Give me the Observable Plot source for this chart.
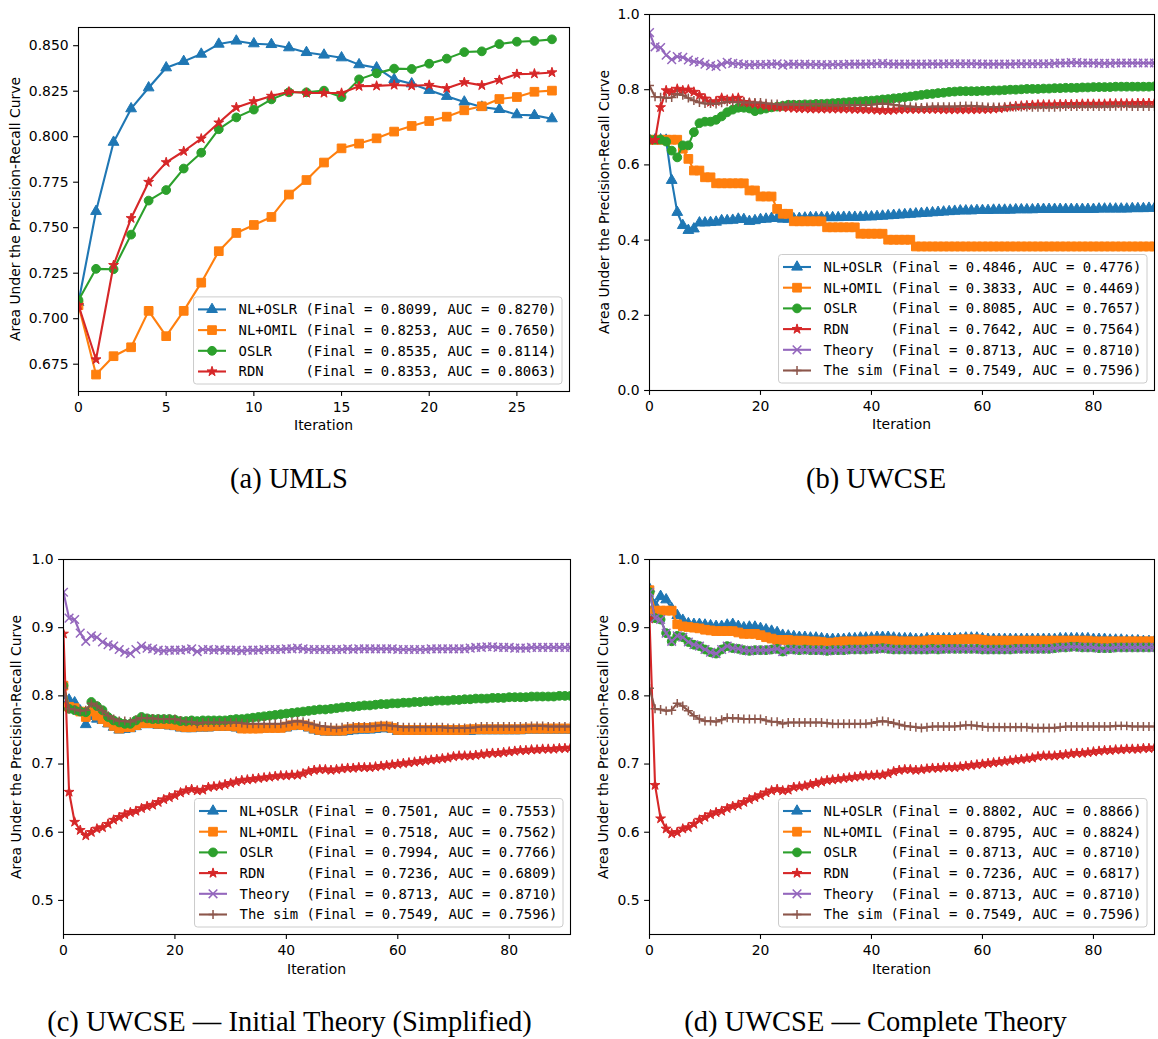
<!DOCTYPE html>
<html><head><meta charset="utf-8">
<script src="https://cdn.jsdelivr.net/npm/d3@7"></script>
<script src="https://cdn.jsdelivr.net/npm/@observablehq/plot@0.6"></script>
<style>
body{margin:0;background:#fff;}
#page{position:relative;width:1158px;height:1039px;overflow:hidden;background:#fff;}
.panel{position:absolute;}
.cap{position:absolute;font-family:"Liberation Serif",serif;font-size:28.5px;line-height:1;white-space:nowrap;transform:translate(-50%,-50%);color:#000;}
.xl{position:absolute;font-family:"DejaVu Sans",sans-serif;font-size:13.9px;line-height:1;transform:translate(-50%,-50%);white-space:nowrap;color:#000;}
.yl{position:absolute;font-family:"DejaVu Sans",sans-serif;font-size:13.9px;line-height:1;transform:translate(-50%,-50%) rotate(-90deg);white-space:nowrap;color:#000;}
</style></head><body><div id="page"></div><script>
// ---------- series names / legend values ----------
const NAMES = ["NL+OSLR","NL+OMIL","OSLR","RDN","Theory","The sim"];
const COLORS = ["#1f77b4","#ff7f0e","#2ca02c","#d62728","#9467bd","#8c564b"];
const SYMBOLS = ["triangle","square","circle","star","times","plus"];

const A_FINAL = [0.8099,0.8253,0.8535,0.8353];
const A_AUC   = [0.8270,0.7650,0.8114,0.8063];
const B_FINAL = [0.4846,0.3833,0.8085,0.7642,0.8713,0.7549];
const B_AUC   = [0.4776,0.4469,0.7657,0.7564,0.8710,0.7596];
const C_FINAL = [0.7501,0.7518,0.7994,0.7236,0.8713,0.7549];
const C_AUC   = [0.7553,0.7562,0.7766,0.6809,0.8710,0.7596];
const D_FINAL = [0.8802,0.8795,0.8713,0.7236,0.8713,0.7549];
const D_AUC   = [0.8866,0.8824,0.8710,0.6817,0.8710,0.7596];

// ---------- (a) UMLS : iterations 0..27 ----------
const A_NLOSLR = [0.709,0.759,0.797,0.8154,0.8269,0.8379,0.8414,0.8454,0.8509,0.8526,0.8511,0.8507,0.8489,0.8463,0.8449,0.8434,0.8396,0.8379,0.8315,0.8291,0.8255,0.8222,0.8191,0.8163,0.8150,0.8121,0.8117,0.8099];
const A_NLOMIL = [0.7074,0.6693,0.6794,0.6843,0.7043,0.6904,0.7043,0.7198,0.7371,0.7471,0.7515,0.7559,0.7682,0.7762,0.7858,0.7936,0.7962,0.7991,0.8028,0.8059,0.8086,0.8110,0.8145,0.8167,0.8207,0.8218,0.8247,0.8253];
const A_OSLR   = [0.7102,0.7274,0.7272,0.7462,0.7649,0.7707,0.7825,0.7912,0.8041,0.8106,0.8149,0.8205,0.8244,0.8244,0.8253,0.8218,0.8315,0.8348,0.8374,0.8372,0.8401,0.8429,0.8465,0.8469,0.8509,0.8522,0.8526,0.8535];
const A_RDN    = [0.7074,0.6776,0.7294,0.7552,0.7751,0.7859,0.7920,0.7989,0.8077,0.8161,0.8194,0.8224,0.8247,0.8240,0.8240,0.8240,0.8277,0.8279,0.8284,0.8280,0.8284,0.8266,0.8299,0.8282,0.8311,0.8344,0.8346,0.8353];

// ---------- shared UWCSE series : iterations 0..91 ----------
const THEORY = [0.952,0.914,0.912,0.892,0.880,0.888,0.886,0.879,0.875,0.873,0.868,0.864,0.862,0.868,0.873,
 0.870,0.869,0.867,0.866,0.867,0.867,0.867,0.868,0.869,0.865,0.868,0.868,0.867,0.868,0.867,
 0.867,0.867,0.866,0.867,0.867,0.867,0.868,0.868,0.868,0.868,0.869,0.869,0.870,0.869,0.868,
 0.868,0.868,0.868,0.868,0.868,0.868,0.869,0.868,0.869,0.869,0.869,0.869,0.869,0.869,0.869,
 0.868,0.868,0.868,0.868,0.868,0.868,0.869,0.869,0.869,0.869,0.869,0.869,0.869,0.870,0.871,
 0.871,0.872,0.872,0.871,0.871,0.871,0.870,0.870,0.870,0.871,0.871,0.871,0.871,0.871,0.871,0.871,0.871];
const THESIM = [0.811,0.781,0.780,0.778,0.779,0.789,0.785,0.778,0.771,0.766,0.763,0.763,0.762,0.765,0.768,
 0.767,0.767,0.766,0.766,0.766,0.766,0.764,0.762,0.762,0.759,0.761,0.761,0.761,0.761,0.761,
 0.761,0.761,0.760,0.759,0.759,0.759,0.759,0.759,0.759,0.759,0.760,0.762,0.763,0.762,0.760,
 0.758,0.756,0.755,0.754,0.753,0.754,0.755,0.755,0.755,0.755,0.755,0.756,0.757,0.757,0.756,
 0.755,0.754,0.754,0.754,0.754,0.754,0.754,0.754,0.754,0.753,0.753,0.753,0.753,0.753,0.754,
 0.755,0.755,0.755,0.755,0.755,0.755,0.755,0.755,0.755,0.756,0.756,0.756,0.755,0.755,0.755,0.755,0.755];

// ---------- (b) UWCSE ----------
const B_NLOSLR = [0.667,0.667,0.667,0.666,0.559,0.474,0.439,0.426,0.430,0.446,0.446,0.447,0.448,0.452,0.452,
 0.453,0.456,0.455,0.450,0.452,0.455,0.456,0.458,0.458,0.456,0.456,0.457,0.458,0.459,0.460,
 0.460,0.460,0.460,0.460,0.460,0.461,0.461,0.461,0.461,0.462,0.462,0.463,0.464,0.465,0.466,
 0.467,0.468,0.469,0.470,0.471,0.472,0.473,0.474,0.475,0.476,0.477,0.478,0.478,0.478,0.479,
 0.479,0.479,0.480,0.480,0.480,0.480,0.481,0.481,0.481,0.481,0.482,0.482,0.482,0.482,0.482,
 0.482,0.482,0.482,0.482,0.482,0.482,0.483,0.483,0.483,0.483,0.483,0.483,0.484,0.484,0.484,0.485,0.485];
const B_NLOMIL = [0.667,0.667,0.667,0.667,0.667,0.667,0.643,0.616,0.585,0.585,0.567,0.567,0.551,0.551,0.551,
 0.551,0.551,0.551,0.532,0.532,0.516,0.516,0.516,0.483,0.470,0.470,0.450,0.450,0.450,0.450,
 0.450,0.450,0.434,0.434,0.434,0.434,0.434,0.434,0.417,0.417,0.417,0.417,0.417,0.401,0.401,
 0.401,0.401,0.401,0.383,0.383,0.383,0.383,0.383,0.383,0.383,0.383,0.383,0.383,0.383,0.383,
 0.383,0.383,0.383,0.383,0.383,0.383,0.383,0.383,0.383,0.383,0.383,0.383,0.383,0.383,0.383,
 0.383,0.383,0.383,0.383,0.383,0.383,0.383,0.383,0.383,0.383,0.383,0.383,0.383,0.383,0.383,0.383,0.383];
const B_OSLR = [0.667,0.667,0.667,0.662,0.638,0.620,0.652,0.652,0.687,0.711,0.715,0.715,0.720,0.729,0.740,
 0.747,0.752,0.752,0.750,0.743,0.747,0.750,0.753,0.755,0.757,0.760,0.760,0.760,0.761,0.761,
 0.762,0.762,0.763,0.764,0.765,0.766,0.767,0.768,0.769,0.770,0.771,0.772,0.774,0.775,0.777,
 0.778,0.780,0.782,0.784,0.786,0.788,0.789,0.791,0.792,0.794,0.795,0.796,0.796,0.796,0.796,
 0.797,0.797,0.798,0.798,0.799,0.800,0.800,0.801,0.802,0.802,0.802,0.803,0.803,0.804,0.804,
 0.805,0.805,0.805,0.806,0.806,0.807,0.807,0.807,0.807,0.808,0.808,0.808,0.808,0.808,0.808,0.808,0.809];
const B_RDN = [0.666,0.666,0.753,0.798,0.794,0.802,0.798,0.800,0.794,0.785,0.776,0.767,0.769,0.778,0.773,
 0.776,0.778,0.767,0.765,0.762,0.760,0.757,0.755,0.754,0.753,0.752,0.751,0.750,0.750,0.749,
 0.749,0.749,0.749,0.749,0.749,0.749,0.749,0.748,0.748,0.747,0.747,0.746,0.745,0.745,0.746,
 0.747,0.748,0.748,0.748,0.748,0.748,0.748,0.748,0.747,0.747,0.747,0.747,0.747,0.747,0.747,
 0.748,0.748,0.749,0.750,0.752,0.754,0.756,0.757,0.758,0.759,0.760,0.760,0.760,0.760,0.761,
 0.761,0.761,0.761,0.762,0.762,0.762,0.762,0.762,0.763,0.763,0.763,0.763,0.763,0.764,0.764,0.764,0.764];

// ---------- (c) UWCSE - Initial Theory (Simplified) ----------
const C_NLOSLR = [0.800,0.794,0.790,0.778,0.758,0.770,0.766,0.764,0.759,0.754,0.750,0.751,0.752,0.755,0.758,
 0.758,0.758,0.757,0.757,0.756,0.755,0.753,0.752,0.752,0.753,0.753,0.753,0.754,0.754,0.754,
 0.754,0.753,0.751,0.751,0.751,0.751,0.752,0.752,0.752,0.752,0.753,0.755,0.756,0.756,0.753,
 0.750,0.748,0.747,0.747,0.747,0.747,0.748,0.749,0.750,0.750,0.750,0.751,0.752,0.752,0.751,
 0.748,0.748,0.748,0.748,0.748,0.748,0.748,0.748,0.748,0.748,0.748,0.748,0.748,0.748,0.749,
 0.749,0.749,0.749,0.749,0.749,0.749,0.749,0.749,0.750,0.750,0.750,0.750,0.750,0.750,0.750,0.750,0.750];
const C_NLOMIL = [0.815,0.784,0.782,0.777,0.769,0.777,0.771,0.766,0.761,0.756,0.752,0.754,0.754,0.757,0.760,
 0.760,0.760,0.759,0.759,0.758,0.757,0.755,0.754,0.754,0.755,0.755,0.755,0.756,0.756,0.756,
 0.756,0.755,0.752,0.752,0.752,0.752,0.753,0.753,0.753,0.753,0.755,0.757,0.758,0.757,0.755,
 0.752,0.750,0.749,0.749,0.749,0.749,0.751,0.752,0.753,0.753,0.753,0.754,0.755,0.755,0.753,
 0.750,0.750,0.750,0.750,0.750,0.750,0.750,0.750,0.750,0.750,0.750,0.750,0.750,0.751,0.751,
 0.751,0.751,0.751,0.751,0.751,0.751,0.751,0.751,0.752,0.752,0.752,0.752,0.752,0.752,0.752,0.752,0.752];
const C_OSLR = [0.815,0.781,0.779,0.777,0.776,0.791,0.785,0.779,0.769,0.764,0.761,0.759,0.759,0.764,0.769,
 0.767,0.766,0.766,0.766,0.766,0.765,0.763,0.763,0.764,0.763,0.764,0.764,0.764,0.764,0.764,
 0.765,0.766,0.766,0.767,0.768,0.769,0.770,0.771,0.772,0.773,0.774,0.775,0.776,0.777,0.778,
 0.779,0.780,0.780,0.781,0.782,0.783,0.784,0.784,0.785,0.786,0.786,0.787,0.788,0.788,0.789,
 0.789,0.790,0.790,0.791,0.791,0.792,0.792,0.793,0.793,0.793,0.794,0.794,0.795,0.795,0.796,
 0.796,0.796,0.797,0.797,0.797,0.798,0.798,0.798,0.798,0.799,0.799,0.799,0.799,0.799,0.800,0.800,0.800];
const C_RDN = [0.891,0.659,0.615,0.603,0.595,0.600,0.605,0.607,0.612,0.618,0.622,0.626,0.629,0.631,0.635,
 0.638,0.640,0.644,0.648,0.651,0.654,0.658,0.661,0.663,0.661,0.662,0.666,0.667,0.668,0.670,
 0.672,0.674,0.676,0.677,0.678,0.679,0.680,0.681,0.682,0.683,0.683,0.684,0.684,0.686,0.689,
 0.691,0.692,0.692,0.691,0.692,0.693,0.694,0.694,0.695,0.695,0.695,0.696,0.697,0.698,0.699,
 0.700,0.701,0.702,0.703,0.704,0.705,0.706,0.707,0.708,0.709,0.711,0.712,0.712,0.712,0.713,
 0.714,0.715,0.716,0.716,0.717,0.718,0.719,0.720,0.720,0.721,0.721,0.722,0.722,0.722,0.723,0.723,0.724];

// ---------- (d) UWCSE - Complete Theory ----------
const D_NLOSLR = [0.957,0.933,0.946,0.941,0.928,0.918,0.911,0.906,0.905,0.905,0.904,0.903,0.902,0.902,0.904,
 0.905,0.902,0.900,0.901,0.901,0.899,0.897,0.895,0.893,0.889,0.888,0.887,0.886,0.886,0.885,
 0.885,0.884,0.883,0.883,0.883,0.883,0.884,0.884,0.885,0.885,0.885,0.886,0.886,0.886,0.885,
 0.884,0.884,0.884,0.883,0.883,0.884,0.884,0.884,0.884,0.884,0.884,0.884,0.885,0.885,0.885,
 0.884,0.883,0.883,0.883,0.883,0.883,0.883,0.883,0.883,0.883,0.883,0.883,0.883,0.883,0.884,
 0.884,0.884,0.884,0.884,0.884,0.883,0.883,0.883,0.882,0.882,0.882,0.881,0.881,0.881,0.880,0.880,0.880];
const D_NLOMIL = [0.955,0.925,0.925,0.925,0.925,0.905,0.902,0.901,0.900,0.899,0.897,0.896,0.895,0.895,0.895,
 0.895,0.893,0.891,0.891,0.891,0.889,0.886,0.884,0.882,0.882,0.882,0.881,0.881,0.881,0.880,
 0.880,0.879,0.878,0.878,0.879,0.880,0.880,0.880,0.880,0.880,0.881,0.881,0.881,0.881,0.881,
 0.880,0.880,0.880,0.880,0.880,0.881,0.882,0.882,0.882,0.882,0.882,0.883,0.883,0.883,0.883,
 0.882,0.881,0.881,0.881,0.881,0.881,0.881,0.881,0.881,0.881,0.881,0.881,0.881,0.881,0.881,
 0.881,0.881,0.881,0.881,0.881,0.880,0.880,0.880,0.880,0.880,0.880,0.880,0.880,0.880,0.880,0.880,0.880];
const D_OSLR = THEORY;
const D_RDN = [0.913,0.669,0.620,0.605,0.598].concat(C_RDN.slice(5));

// ---------- layout ----------
const FS = 13.9;
const PANELS = [
 {left:0,top:0,w:575,h:440,ml:78,mr:6,mt:27,mb:49,xDomain:[0,28],yDomain:[0.660,0.860],
  xTicks:[0,5,10,15,20,25],yTicks:[0.675,0.700,0.725,0.750,0.775,0.800,0.825,0.850],yFmt:".3f",
  series:[A_NLOSLR,A_NLOMIL,A_OSLR,A_RDN],finals:A_FINAL,aucs:A_AUC,
  caption:"(a) UMLS",capX:289,capY:479,ylX:15.5,xlY:425.5},
 {left:580,top:0,w:578,h:440,ml:69,mr:4,mt:14,mb:50,xDomain:[0,91],yDomain:[0,1],
  xTicks:[0,20,40,60,80],yTicks:[0,0.2,0.4,0.6,0.8,1.0],yFmt:".1f",
  series:[B_NLOSLR,B_NLOMIL,B_OSLR,B_RDN,THEORY,THESIM],finals:B_FINAL,aucs:B_AUC,
  caption:"(b) UWCSE",capX:876,capY:479,ylX:604.5,xlY:425},
 {left:0,top:540,w:575,h:440,ml:63,mr:5,mt:19,mb:46,xDomain:[0,91],yDomain:[0.45,1],
  xTicks:[0,20,40,60,80],yTicks:[0.5,0.6,0.7,0.8,0.9,1.0],yFmt:".1f",
  series:[C_NLOSLR,C_NLOMIL,C_OSLR,C_RDN,THEORY,THESIM],finals:C_FINAL,aucs:C_AUC,
  caption:"(c) UWCSE \u2014 Initial Theory (Simplified)",capX:289.5,capY:1022,ylX:17.3,xlY:970},
 {left:580,top:540,w:578,h:440,ml:69,mr:4,mt:19,mb:46,xDomain:[0,91],yDomain:[0.45,1],
  xTicks:[0,20,40,60,80],yTicks:[0.5,0.6,0.7,0.8,0.9,1.0],yFmt:".1f",
  series:[D_NLOSLR,D_NLOMIL,D_OSLR,D_RDN,THEORY,THESIM],finals:D_FINAL,aucs:D_AUC,
  caption:"(d) UWCSE \u2014 Complete Theory",capX:875.5,capY:1022,ylX:603.7,xlY:970}
];
const RADII = {triangle:4.0,square:4.9,circle:4.4,star:3.1,times:4.0,plus:3.0};
const STROKED = {times:true,plus:true};
const D3SYM = {triangle:d3.symbolTriangle,square:d3.symbolSquare,circle:d3.symbolCircle,star:d3.symbolStar,times:d3.symbolTimes,plus:d3.symbolPlus};

const page = document.getElementById("page");

PANELS.forEach(p => {
  const marks = [];
  p.series.forEach((vals, k) => {
    const rows = vals.map((v, i) => ({i, v}));
    const sym = SYMBOLS[k], col = COLORS[k];
    marks.push(Plot.line(rows, {x:"i", y:"v", stroke:col, strokeWidth:2.1, clip:true}));
    marks.push(Plot.dot(rows, {x:"i", y:"v", symbol:sym, r:RADII[sym],
      fill: STROKED[sym] ? "none" : col, stroke: col, strokeWidth: STROKED[sym] ? 1.5 : 1, clip:true}));
  });
  marks.push(Plot.frame({stroke:"black", strokeWidth:1.1}));
  marks.push(Plot.axisX({ticks:p.xTicks, tickSize:4.9, tickPadding:6, strokeWidth:1.1, label:null}));
  marks.push(Plot.axisY({ticks:p.yTicks, tickFormat:d3.format(p.yFmt), tickSize:4.9, tickPadding:5, strokeWidth:1.1, label:null}));
  const svg = Plot.plot({
    width:p.w, height:p.h, marginLeft:p.ml, marginRight:p.mr, marginTop:p.mt, marginBottom:p.mb,
    x:{domain:p.xDomain}, y:{domain:p.yDomain},
    style:{fontFamily:"DejaVu Sans", fontSize:FS+"px", color:"black", background:"transparent", overflow:"visible"},
    marks
  });
  const wrap = document.createElement("div");
  wrap.className = "panel";
  wrap.style.left = p.left + "px"; wrap.style.top = p.top + "px";
  wrap.appendChild(svg);
  page.appendChild(wrap);

  const fl = p.left + p.ml, fr = p.left + p.w - p.mr, ft = p.top + p.mt, fb = p.top + p.h - p.mb;
  const xl = document.createElement("div"); xl.className = "xl"; xl.textContent = "Iteration";
  xl.style.left = ((fl + fr) / 2) + "px"; xl.style.top = p.xlY + "px"; page.appendChild(xl);
  const yl = document.createElement("div"); yl.className = "yl"; yl.textContent = "Area Under the Precision-Recall Curve";
  yl.style.left = p.ylX + "px"; yl.style.top = ((ft + fb) / 2) + "px"; page.appendChild(yl);
  const cap = document.createElement("div"); cap.className = "cap"; cap.textContent = p.caption;
  cap.style.left = p.capX + "px"; cap.style.top = p.capY + "px"; page.appendChild(cap);
  p.frame = {fl, fr, ft, fb};
});

// ---------- legends ----------
const ov = d3.select(page).append("svg").attr("width",1158).attr("height",1039)
  .style("position","absolute").style("left","0px").style("top","0px");
PANELS.forEach(p => {
  const n = p.series.length, rowH = 20.7;
  const boxR = p.frame.fr - 7, boxB = p.frame.fb - 7;
  const textW = 38 * 0.602 * FS;
  const textL = boxR - 5.5 - textW;
  const boxL = textL - 45;
  const boxH = (n - 1) * rowH + 25, boxT = boxB - boxH;
  const g = ov.append("g");
  g.append("rect").attr("x",boxL).attr("y",boxT).attr("width",boxR-boxL).attr("height",boxH)
    .attr("rx",3).attr("fill","white").attr("fill-opacity",0.8).attr("stroke","#cccccc").attr("stroke-width",1);
  for (let k = 0; k < n; k++) {
    const cy = boxT + 12.5 + k * rowH, col = COLORS[k], sym = SYMBOLS[k];
    g.append("line").attr("x1",boxL+4.5).attr("x2",boxL+32.5).attr("y1",cy).attr("y2",cy)
      .attr("stroke",col).attr("stroke-width",2.1);
    const r = RADII[sym];
    g.append("path").attr("d", d3.symbol(D3SYM[sym], Math.PI*r*r)())
      .attr("transform",`translate(${boxL+18.5},${cy})`)
      .attr("fill", STROKED[sym] ? "none" : col).attr("stroke",col).attr("stroke-width", STROKED[sym] ? 1.5 : 1);
    const label = NAMES[k].padEnd(7) + " (Final = " + p.finals[k].toFixed(4) + ", AUC = " + p.aucs[k].toFixed(4) + ")";
    g.append("text").attr("x",textL).attr("y",cy+4.9).attr("xml:space","preserve").style("white-space","pre")
      .attr("font-family","DejaVu Sans Mono").attr("font-size",FS).attr("fill","black").text(label);
  }
});
</script></body></html>
